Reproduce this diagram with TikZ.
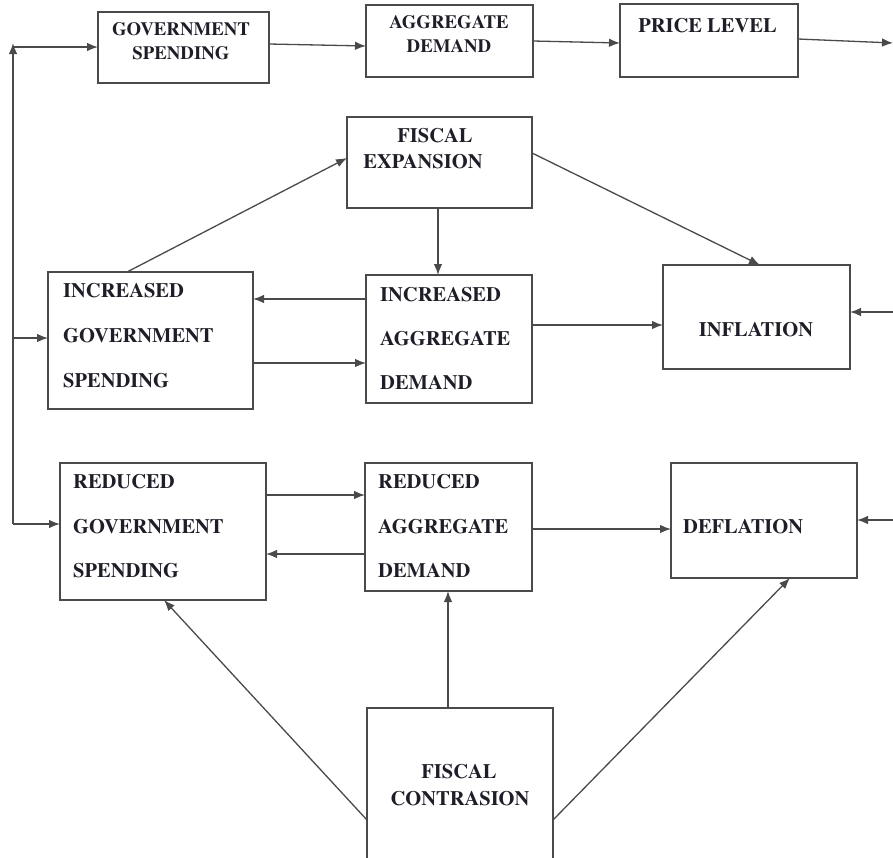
\documentclass[tikz,border=0pt]{standalone}
\usepackage[T1]{fontenc}
\usepackage{times}
\usetikzlibrary{arrows.meta}
\definecolor{linec}{HTML}{4A4A4A}
\definecolor{textc}{HTML}{1E1E28}
\tikzset{
  box/.style={draw=linec, line width=1.4pt, rectangle, inner sep=0pt, outer sep=0pt},
  arr/.style={draw=linec, line width=1.3pt, -{Latex[length=11pt,width=8.5pt]}},
  tbig/.style={inner sep=0pt, text=textc, font=\fontsize{20.5}{24}\selectfont\bfseries},
  tsmall/.style={inner sep=0pt, text=textc, font=\fontsize{18.8}{22}\selectfont\bfseries},
}
\begin{document}
\begin{tikzpicture}[x=1pt,y=-1pt]
\useasboundingbox (0,0) rectangle (893,857);
\clip (0,0) rectangle (893,857);
\fill[white] (0,0) rectangle (893,857);

% boxes
\node[box, minimum width=171pt, minimum height=71pt] (gs) at (183.5,47.5) {};
\node[box, minimum width=167pt, minimum height=72pt] (ad) at (449.5,41) {};
\node[box, minimum width=178pt, minimum height=73pt] (pl) at (709,40.5) {};
\node[box, minimum width=185pt, minimum height=91pt] (fe) at (439.5,162.5) {};
\node[box, minimum width=205pt, minimum height=137pt] (igs) at (150.5,340.5) {};
\node[box, minimum width=166pt, minimum height=128pt] (iad) at (449,339) {};
\node[box, minimum width=187pt, minimum height=104pt] (inf) at (756.5,317) {};
\node[box, minimum width=206pt, minimum height=137pt] (rgs) at (163,531.5) {};
\node[box, minimum width=167pt, minimum height=128pt] (rad) at (448.5,527) {};
\node[box, minimum width=186pt, minimum height=115pt] (def) at (764,520.5) {};
\node[box, minimum width=186pt, minimum height=172pt] (fc) at (460,794) {};

% texts
\node[tsmall, anchor=base] (gs1) at (181,35) {GOVERNMENT};
\node[tsmall, anchor=base] (gs2) at (181,59) {SPENDING};
\node[tsmall, anchor=base] (ad1) at (449,28) {AGGREGATE};
\node[tsmall, anchor=base] (ad2) at (449,52) {DEMAND};
\node[tbig, anchor=base] (pl1) at (707.5,32) {PRICE LEVEL};
\node[tbig, anchor=base] (fe1) at (435,142) {FISCAL};
\node[tbig, anchor=base] (fe2) at (423,168) {EXPANSION};
\node[tbig, anchor=base west] (igs1) at (63,297) {INCREASED};
\node[tbig, anchor=base west] (igs2) at (63,342) {GOVERNMENT};
\node[tbig, anchor=base west] (igs3) at (63,387) {SPENDING};
\node[tbig, anchor=base west] (iad1) at (380,301) {INCREASED};
\node[tbig, anchor=base west] (iad2) at (380,345) {AGGREGATE};
\node[tbig, anchor=base west] (iad3) at (380,389) {DEMAND};
\node[tbig, anchor=base] (inf1) at (756,336) {INFLATION};
\node[tbig, anchor=base west] (rgs1) at (73,488) {REDUCED};
\node[tbig, anchor=base west] (rgs2) at (73,533) {GOVERNMENT};
\node[tbig, anchor=base west] (rgs3) at (73,577) {SPENDING};
\node[tbig, anchor=base west] (rad1) at (378,488) {REDUCED};
\node[tbig, anchor=base west] (rad2) at (378,533) {AGGREGATE};
\node[tbig, anchor=base west] (rad3) at (378,577) {DEMAND};
\node[tbig, anchor=base west] (def1) at (683,533) {DEFLATION};
\node[tbig, anchor=base] (fc1) at (459,778) {FISCAL};
\node[tbig, anchor=base] (fc2) at (460,805) {CONTRASION};

% free ends
\coordinate (Lbot) at (13,524);
\coordinate (Ltop) at (13,43);
\coordinate (Lgs) at (13,47);
\coordinate (Ligs) at (13,338);
\coordinate (Rpl) at (893,43);
\coordinate (Rinf) at (893,312);
\coordinate (Rdef) at (893,520);

% left bus
\draw[arr] (Lbot) -- (Ltop);
\draw[arr] (Lgs) -- (gs.west |- Lgs);
\draw[arr] (Ligs) -- (igs.west |- Ligs);
\draw[arr] (Lbot) -- (rgs.west |- Lbot);

% top row
\draw[arr] (gs.east |- 0,44) -- (ad.west |- 0,46);
\draw[arr] (ad.east |- 0,41) -- (pl.west |- 0,43);
\draw[arr] (pl.east |- 0,39) -- (Rpl);

% fiscal expansion
\draw[arr] (igs.north -| 127,0) -- (fe.west |- 0,158);
\draw[arr] (fe.south -| 438,0) -- (iad.north -| 438,0);
\draw[arr] (fe.east |- 0,153) -- (inf.north -| 760,0);

% increased row
\draw[arr] (iad.west |- 0,299) -- (igs.east |- 0,299);
\draw[arr] (igs.east |- 0,363) -- (iad.west |- 0,363);
\draw[arr] (iad.east |- 0,325) -- (inf.west |- 0,325);
\draw[arr] (Rinf) -- (inf.east |- Rinf);

% reduced row
\draw[arr] (rgs.east |- 0,495) -- (rad.west |- 0,495);
\draw[arr] (rad.west |- 0,554) -- (rgs.east |- 0,554);
\draw[arr] (rad.east |- 0,529) -- (def.west |- 0,529);
\draw[arr] (Rdef) -- (def.east |- Rdef);

% fiscal contraction
\draw[arr] (fc.north -| 448,0) -- (rad.south -| 448,0);
\draw[arr] (fc.west |- 0,820) -- (rgs.south -| 164,0);
\draw[arr] (fc.east |- 0,820) -- (def.south -| 790,0);
\end{tikzpicture}
\end{document}
